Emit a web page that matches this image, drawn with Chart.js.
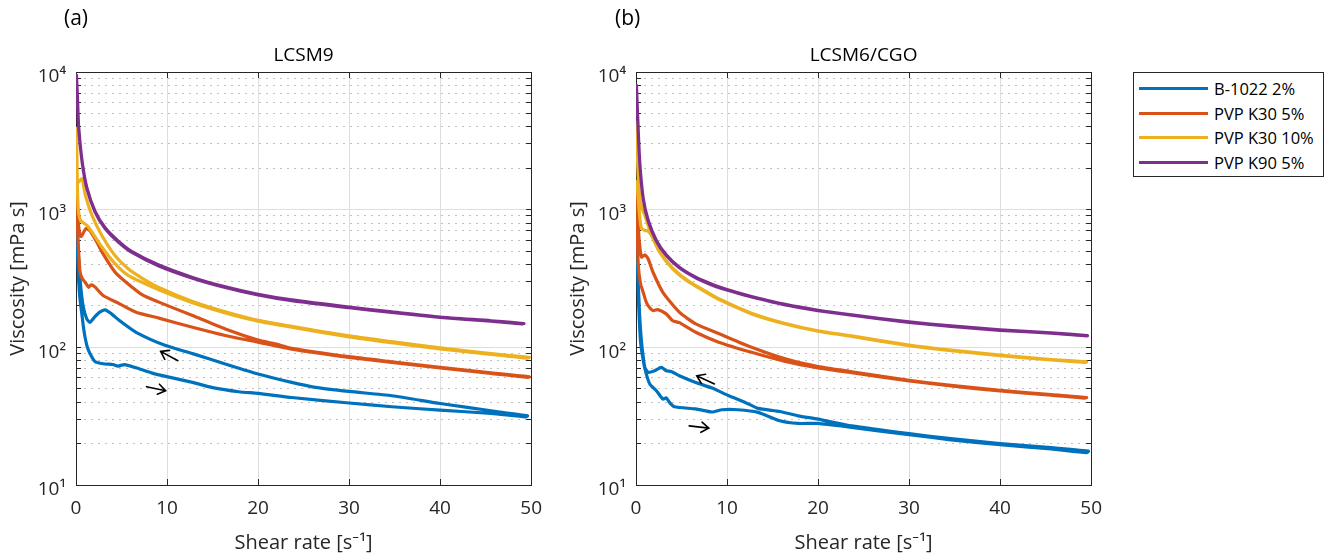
<!DOCTYPE html>
<html>
<head>
<meta charset="utf-8">
<title>Viscosity hysteresis</title>
<script src="https://cdn.jsdelivr.net/npm/chart.js@4.4.1/dist/chart.umd.min.js"></script>
<style>
  body { margin: 0; background: #fff; font-family: 'Open Sans', 'Noto Sans', sans-serif; }
  #wrap { position: relative; width: 1331px; height: 559px; }
  .panel { position: absolute; top: 0; }
  #legend {
    position: absolute; left: 1133px; top: 72px; width: 191px; height: 105px;
    box-sizing: border-box; border: 1px solid #262626; background: #fff; padding-top: 3px;
  }
  #legend .row { height: 24.7px; display: flex; align-items: center; font-size: 16.5px; color: #000; }
  #legend .swatch { width: 69px; height: 3px; margin-left: 5px; margin-right: 6px; }
</style>
</head>
<body>
<div id="wrap">
  <canvas id="panelA" class="panel" width="560" height="559" style="left:0"></canvas>
  <canvas id="panelB" class="panel" width="560" height="559" style="left:560px"></canvas>
  <div id="legend"></div>
</div>
<script>
const seriesNames = ['B-1022 2%', 'PVP K30 5%', 'PVP K30 10%', 'PVP K90 5%'];
const seriesColors = ['#0072BD', '#D95319', '#EDB120', '#7E2F8E'];

const yTickValues = [10, 100, 1000, 10000];
const yMinorValues = [20, 30, 40, 50, 60, 70, 80, 90, 200, 300, 400, 500, 600, 700, 800, 900,
                      2000, 3000, 4000, 5000, 6000, 7000, 8000, 9000];
const xTickValues = [0, 10, 20, 30, 40, 50];

// LCSM9 - each curve runs up the shear ramp and back down again
const lcsm9BlueX = [0.05, 0.12, 0.2, 0.3, 0.45, 0.64, 0.82, 1.0, 1.25, 1.54, 2.08, 2.98, 4.06, 4.6, 5.33, 6.6, 8.4, 9.85, 12.8, 15.0, 17.9, 20, 23.7, 30, 34.7, 40, 45.6, 49.4,
                    49.6, 45.6, 40, 34.7, 30, 26.3, 23.7, 20, 16.4, 12.8, 9.85, 6.6, 4.8, 3.9, 3.2, 2.6, 2.08, 1.54, 1.18, 0.81, 0.56, 0.35, 0.2, 0.1];
const lcsm9BlueY = [880, 600, 420, 300, 220, 175, 140, 118, 100, 90, 79, 76, 75, 73, 75, 71, 65, 61.5, 55.6, 51, 47.6, 46.3, 43.2, 39.4, 37, 35, 33.1, 31.3,
                    31.8, 34.6, 39.1, 44.5, 47.8, 51.2, 55.6, 64, 75.7, 90, 103, 128.6, 156, 175, 187, 180, 167, 152, 161, 195, 259, 380, 550, 800];

const lcsm9OrangeX = [0.05, 0.1, 0.18, 0.3, 0.45, 0.7, 1.0, 1.4, 1.65, 2.08, 2.98, 4.8, 6.6, 9.1, 12.8, 16.4, 20, 23.7, 30, 34.7, 40, 45.6, 49.6,
                      49.8, 45.6, 40, 34.7, 30, 23.7, 21.9, 20, 16.4, 12.8, 9.1, 7.3, 5.5, 4.3, 2.86, 2.3, 1.76, 1.45, 1.1, 0.7, 0.55, 0.35, 0.15, 0.05];
const lcsm9OrangeY = [1500, 1000, 700, 480, 351, 315, 297, 273, 284, 275, 238, 207, 180, 163, 140, 122, 109, 97, 84.6, 77.8, 70.8, 64.6, 60.5,
                      61, 65.2, 71.5, 78.6, 85.5, 98.5, 106, 113, 136, 170, 213, 240, 297, 351, 492, 580, 668, 710, 730, 660, 640, 700, 1000, 1430];

const lcsm9YellowX = [0.05, 0.1, 0.15, 0.25, 0.45, 0.67, 1.2, 1.76, 2.84, 4.28, 5.73, 9.1, 12.8, 16.4, 20, 23.7, 30, 34.7, 40, 45.6, 49.6,
                      49.8, 45.6, 40, 34.7, 30, 23.7, 20, 16.4, 12.8, 9.1, 7.2, 5.73, 4.28, 2.84, 1.76, 1.03, 0.67, 0.4, 0.15];
const lcsm9YellowY = [3900, 2500, 1500, 1000, 850, 813, 769, 687, 535, 405, 333, 262, 211, 178, 155, 140, 119, 108, 97.5, 89, 83.5,
                      84.5, 90, 99, 110, 121, 142, 157, 181, 215, 272, 320, 372, 465, 650, 908, 1270, 1680, 1620, 1550];

const lcsm9PurpleX = [0.05, 0.15, 0.3, 0.67, 1.2, 2.1, 3.2, 4.65, 6.1, 9.1, 12.8, 16.4, 20, 23.7, 30, 34.7, 40, 45.6, 49,
                      49.2, 45.6, 40, 34.7, 30, 23.7, 20, 16.4, 12.8, 9.1, 6.1, 4.65, 3.2, 2.1, 1.2, 0.67, 0.3, 0.15];
const lcsm9PurpleY = [9500, 6800, 3900, 2220, 1420, 961, 728, 581, 491, 390, 318, 272, 240, 218, 194, 179, 165, 155, 148,
                      149, 156, 166, 181, 196, 221, 243, 275, 322, 396, 498, 590, 738, 972, 1440, 2250, 3950, 6000];

// LCSM6/CGO
const cgoBlueX = [0.05, 0.15, 0.3, 0.5, 0.8, 1.08, 1.51, 2.24, 2.95, 3.32, 3.68, 4.22, 6.56, 8.36, 9.44, 11.2, 13.4, 15.8, 17.8, 20, 23.7, 30, 34.6, 40, 45.6, 49.5,
                  49.7, 45.6, 40, 34.6, 30, 23.7, 20, 17.8, 15.8, 13.4, 12, 10.2, 8.36, 6.56, 4.76, 3.86, 3.32, 2.78, 2.05, 1.33, 0.97, 0.8, 0.6, 0.4, 0.2, 0.1];
const cgoBlueY = [700, 400, 200, 110, 80, 65.8, 54.2, 48.4, 42.1, 42.9, 39.8, 37, 35.7, 33.9, 35.2, 35.2, 33.7, 29.3, 28, 28, 26.2, 23.2, 21.3, 19.6, 18.3, 17.2,
                  17.6, 18.7, 20, 21.7, 23.6, 26.9, 30.1, 31.8, 34.2, 36, 39.8, 44.5, 50.6, 55.6, 62.2, 66.8, 67.6, 71.5, 67.6, 65.8, 71.5, 84.6, 110, 170, 350, 600];

const cgoOrangeX = [0.05, 0.12, 0.25, 0.5, 0.79, 1.05, 1.33, 1.87, 2.41, 3.32, 4.03, 4.76, 6.56, 9.08, 12.7, 16.4, 20, 23.7, 30, 34.6, 40, 45.6, 49.3,
                    49.5, 45.6, 40, 34.6, 30, 23.7, 20, 16.4, 12.7, 9.08, 6.56, 4.76, 2.95, 1.87, 1.33, 0.97, 0.61, 0.35, 0.15, 0.05];
const cgoOrangeY = [1400, 800, 393, 290, 251, 220, 201, 185, 188, 175, 156, 151, 128.6, 109, 92, 79, 71, 65.5, 57, 52.4, 48.2, 45, 42.8,
                    43.2, 45.3, 48.7, 53, 57.6, 66.5, 72.5, 82.4, 100, 126, 148, 180, 251, 351, 440, 470, 452, 600, 1000, 1420];

const cgoYellowX = [0.05, 0.12, 0.2, 0.3, 0.43, 0.7, 0.97, 1.3, 1.69, 2.59, 4.03, 5.84, 8, 9.08, 12.7, 16.4, 20, 23.7, 30, 34.6, 40, 45.6, 49.3,
                    49.5, 45.6, 40, 34.6, 30, 23.7, 20, 16.4, 12.7, 9.08, 8, 5.84, 4.03, 2.59, 1.69, 1.3, 0.97, 0.61, 0.4, 0.25, 0.1];
const cgoYellowY = [4300, 2800, 2000, 1500, 1200, 1000, 908, 780, 660, 491, 372, 297, 245, 223, 175, 148, 131, 120, 103, 94.6, 87, 81, 77.8,
                    78.3, 81.6, 88, 95.5, 104, 121, 132, 149, 177, 226, 248, 300, 376, 495, 650, 700, 707, 728, 900, 1200, 1600];

const cgoPurpleX = [0.05, 0.1, 0.25, 0.43, 0.79, 1.33, 2.24, 3.32, 4.76, 6.56, 8, 9.08, 11.2, 12.7, 16.4, 20, 23.7, 30, 34.6, 40, 45.6, 49.5,
                    49.6, 45.6, 40, 34.6, 30, 23.7, 20, 16.4, 12.7, 11.2, 9.08, 8, 6.56, 4.76, 3.32, 2.24, 1.33, 0.79, 0.43, 0.25, 0.1];
const cgoPurpleY = [8000, 6500, 3670, 2100, 1200, 830, 590, 465, 378, 320, 290, 272, 247, 232, 203, 185, 171, 152, 142, 133, 127, 121,
                    121.5, 127.5, 134, 143, 153, 172, 186, 205, 234, 249, 275, 293, 323, 382, 470, 598, 840, 1210, 2120, 3700, 6600];

// direction arrows [fromX, fromY, toX, toY] in data units
const lcsm9Arrows = [[11.2, 80, 9.3, 93.5], [7.75, 51.8, 9.85, 48.4]];
const cgoArrows = [[8.62, 54.2, 6.67, 62.2], [5.84, 26.9, 8.0, 25.9]];

const fontFamily = "'Open Sans', 'Noto Sans', sans-serif";
const axisColor = '#262626';
const supDigits = { 1: '\u00b9', 2: '\u00b2', 3: '\u00b3', 4: '\u2074' };

function toPoints(xs, ys) {
  return xs.map((x, i) => ({ x: x, y: ys[i] }));
}

function logTicks(scale) {
  scale.ticks = yTickValues.concat(yMinorValues)
    .sort((a, b) => a - b)
    .map(v => ({ value: v, major: yTickValues.includes(v) }));
}

function decorPlugin(label, labelX, arrows) {
  return {
    id: 'decor',
    afterDatasetsDraw(chart) {
      const ctx = chart.ctx;
      const sx = chart.scales.x, sy = chart.scales.y;
      ctx.save();
      ctx.strokeStyle = '#000';
      ctx.lineWidth = 1.6;
      ctx.lineCap = 'round';
      arrows.forEach(a => {
        const x0 = sx.getPixelForValue(a[0]), y0 = sy.getPixelForValue(a[1]);
        const x1 = sx.getPixelForValue(a[2]), y1 = sy.getPixelForValue(a[3]);
        const ang = Math.atan2(y1 - y0, x1 - x0);
        ctx.beginPath();
        ctx.moveTo(x0, y0);
        ctx.lineTo(x1, y1);
        ctx.moveTo(x1 - 9 * Math.cos(ang - 0.6), y1 - 9 * Math.sin(ang - 0.6));
        ctx.lineTo(x1, y1);
        ctx.lineTo(x1 - 9 * Math.cos(ang + 0.6), y1 - 9 * Math.sin(ang + 0.6));
        ctx.stroke();
      });
      ctx.fillStyle = '#000';
      ctx.font = '21px ' + fontFamily;
      ctx.textAlign = 'left';
      ctx.textBaseline = 'middle';
      ctx.fillText(label, labelX, 19);
      ctx.restore();
    }
  };
}

function makePanel(canvasId, title, label, labelX, curves, arrows) {
  const datasets = curves.map((c, i) => ({
    label: seriesNames[i],
    data: toPoints(c[0], c[1]),
    borderColor: seriesColors[i],
    backgroundColor: seriesColors[i],
    borderWidth: 3.2,
    borderJoinStyle: 'round',
    borderCapStyle: 'round',
    pointRadius: 0,
    tension: 0.2,
    order: curves.length - i,
    xAxisID: 'x',
    yAxisID: 'y'
  }));

  return new Chart(document.getElementById(canvasId), {
    type: 'line',
    data: { datasets: datasets },
    plugins: [decorPlugin(label, labelX, arrows)],
    options: {
      responsive: false,
      animation: false,
      layout: { padding: { left: 0, right: 22, top: 0, bottom: 0 } },
      scales: {
        x: {
          type: 'linear', position: 'bottom', min: 0, max: 50,
          afterBuildTicks: s => { s.ticks = xTickValues.map(v => ({ value: v })); },
          afterFit: s => { s.height = 74; },
          ticks: { color: axisColor, padding: 18, font: { size: 19, family: fontFamily } },
          grid: { color: '#dedede', lineWidth: 1, tickLength: -6, tickColor: axisColor },
          border: { color: axisColor, width: 1 },
          title: { display: true, text: 'Shear rate [s\u207b\u00b9]', color: axisColor,
                   font: { size: 20, family: fontFamily }, padding: { top: 0, bottom: 4 } }
        },
        y: {
          type: 'logarithmic', position: 'left', min: 10, max: 10000,
          afterBuildTicks: logTicks,
          afterFit: s => { s.width = 76; },
          ticks: {
            color: axisColor, padding: 15, labelOffset: 5, autoSkip: false,
            font: { size: 19, family: fontFamily },
            callback: v => {
              const e = Math.round(Math.log10(v));
              return yTickValues.includes(v) ? '10' + supDigits[e] : '';
            }
          },
          grid: {
            color: c => (c.tick && c.tick.major) ? '#dedede' : '#c2c2c2',
            lineWidth: 1, tickLength: -5, tickColor: axisColor
          },
          border: { color: axisColor, width: 1, dash: c => (c.tick && !c.tick.major) ? [2, 5] : [] },
          title: { display: true, text: 'Viscosity [mPa s]', color: axisColor,
                   font: { size: 20, family: fontFamily }, padding: { top: 6, bottom: 0 } }
        },
        xTop: {
          type: 'linear', position: 'top', min: 0, max: 50,
          afterBuildTicks: s => { s.ticks = xTickValues.map(v => ({ value: v })); },
          afterFit: s => { s.height = 0; },
          ticks: { display: false },
          grid: { drawOnChartArea: false, tickLength: -6, tickColor: axisColor },
          border: { color: axisColor, width: 1 }
        },
        yRight: {
          type: 'logarithmic', position: 'right', min: 10, max: 10000,
          afterBuildTicks: logTicks,
          afterFit: s => { s.width = 0; },
          ticks: { display: false },
          grid: { drawOnChartArea: false, tickLength: -5, tickColor: axisColor },
          border: { color: axisColor, width: 1 }
        }
      },
      plugins: {
        legend: { display: false },
        tooltip: { enabled: false },
        title: {
          display: true, text: title, color: '#000', fullSize: false,
          font: { size: 19, weight: 'normal', family: fontFamily },
          padding: { top: 44.6, bottom: 4.6 }
        }
      }
    }
  });
}

makePanel('panelA', 'LCSM9', '(a)', 64, [
  [lcsm9BlueX, lcsm9BlueY],
  [lcsm9OrangeX, lcsm9OrangeY],
  [lcsm9YellowX, lcsm9YellowY],
  [lcsm9PurpleX, lcsm9PurpleY]
], lcsm9Arrows);

makePanel('panelB', 'LCSM6/CGO', '(b)', 55, [
  [cgoBlueX, cgoBlueY],
  [cgoOrangeX, cgoOrangeY],
  [cgoYellowX, cgoYellowY],
  [cgoPurpleX, cgoPurpleY]
], cgoArrows);

// legend box shared by both panels
const legendBox = document.getElementById('legend');
seriesNames.forEach((name, i) => {
  const row = document.createElement('div');
  row.className = 'row';
  const sw = document.createElement('span');
  sw.className = 'swatch';
  sw.style.background = seriesColors[i];
  const txt = document.createElement('span');
  txt.textContent = name;
  row.appendChild(sw);
  row.appendChild(txt);
  legendBox.appendChild(row);
});
</script>
</body>
</html>
